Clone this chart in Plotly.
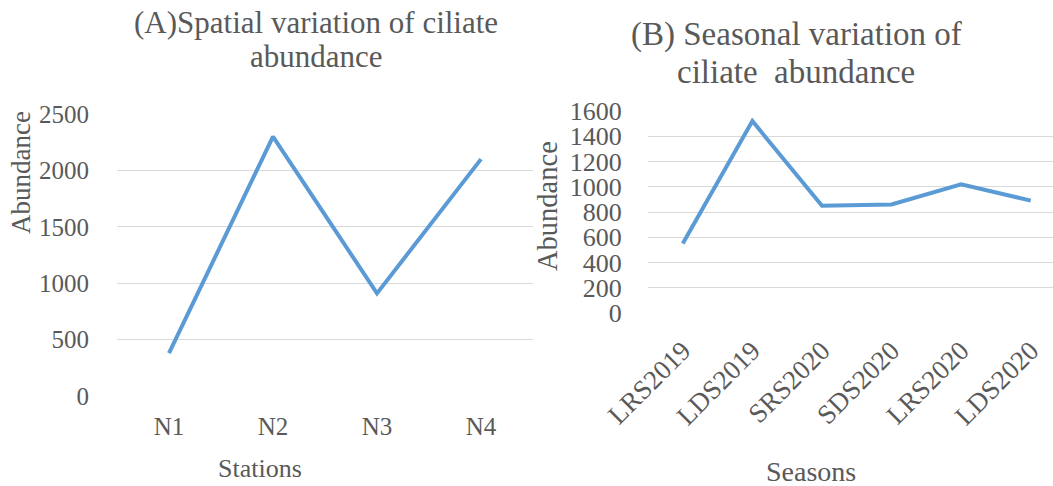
import plotly.graph_objects as go

stations = ["N1", "N2", "N3", "N4"]
station_abundance = [380, 2300, 910, 2100]

seasons = ["LRS2019", "LDS2019", "SRS2020", "SDS2020", "LRS2020", "LDS2020"]
season_abundance = [550, 1520, 850, 860, 1020, 890]

W, H = 1053, 486
FONT = "Liberation Serif"
GREY = "#595959"
BLUE = "#5B9BD5"
GRID = "#D9D9D9"

fig = go.Figure()
fig.add_trace(go.Scatter(x=stations, y=station_abundance, mode="lines",
                         line=dict(color=BLUE, width=4), xaxis="x", yaxis="y",
                         showlegend=False))
fig.add_trace(go.Scatter(x=seasons, y=season_abundance, mode="lines",
                         line=dict(color=BLUE, width=4), xaxis="x2", yaxis="y2",
                         showlegend=False))

def px_x(p):
    return p / W

def px_y(p):
    return 1 - p / H

fig.update_layout(
    template="none",
    width=W, height=H,
    margin=dict(l=0, r=0, t=0, b=0),
    paper_bgcolor="white", plot_bgcolor="white",
    font=dict(family=FONT, color=GREY, size=24),
    xaxis=dict(domain=[px_x(117), px_x(533)], range=[-0.5, 3.5], type="category",
               showgrid=False, zeroline=False, showline=False, automargin=False,
               ticks="outside", ticklen=8, tickcolor="rgba(0,0,0,0)",
               tickfont=dict(size=25, family=FONT, color=GREY), anchor="y"),
    yaxis=dict(domain=[px_y(396), px_y(114)], range=[0, 2500], dtick=500,
               showgrid=True, gridcolor=GRID, gridwidth=1, zeroline=False,
               showline=False, ticks="outside", ticklen=22, automargin=False,
               tickcolor="rgba(0,0,0,0)",
               tickfont=dict(size=25, family=FONT, color=GREY), anchor="x"),
    xaxis2=dict(domain=[px_x(648), 1.0], range=[-0.5, 5.32], type="category",
                showgrid=False, zeroline=False, showline=False, automargin=False,
                ticks="outside", ticklen=10, tickcolor="rgba(0,0,0,0)",
                tickangle=-45,
                tickfont=dict(size=27, family=FONT, color=GREY), anchor="y2"),
    yaxis2=dict(domain=[px_y(313), px_y(111)], range=[0, 1600], dtick=200,
                showgrid=True, gridcolor=GRID, gridwidth=1, zeroline=False,
                showline=False, ticks="outside", ticklen=20, automargin=False,
                tickcolor="rgba(0,0,0,0)",
                tickfont=dict(size=26, family=FONT, color=GREY), anchor="x2"),
)

annotations = [
    dict(text="(A)Spatial variation of ciliate", x=px_x(316), y=px_y(22),
         font=dict(size=31, family=FONT, color=GREY)),
    dict(text="abundance", x=px_x(316), y=px_y(57),
         font=dict(size=31, family=FONT, color=GREY)),
    dict(text="(B) Seasonal variation of", x=px_x(796), y=px_y(35),
         font=dict(size=33, family=FONT, color=GREY)),
    dict(text="ciliate  abundance", x=px_x(796), y=px_y(72),
         font=dict(size=33, family=FONT, color=GREY)),
    dict(text="Abundance", x=px_x(21), y=px_y(173), textangle=-90,
         font=dict(size=27, family=FONT, color=GREY)),
    dict(text="Abundance", x=px_x(548), y=px_y(206), textangle=-90,
         font=dict(size=28.5, family=FONT, color=GREY)),
    dict(text="Stations", x=px_x(260), y=px_y(468),
         font=dict(size=26, family=FONT, color=GREY)),
    dict(text="Seasons", x=px_x(811), y=px_y(471),
         font=dict(size=28, family=FONT, color=GREY)),
]
for a in annotations:
    a.update(xref="paper", yref="paper", showarrow=False, xanchor="center",
             yanchor="middle")
fig.update_layout(annotations=annotations)

fig.write_html("out.html", config={"displayModeBar": False},
               post_script="document.body.style.margin='0';document.body.style.padding='0';")
